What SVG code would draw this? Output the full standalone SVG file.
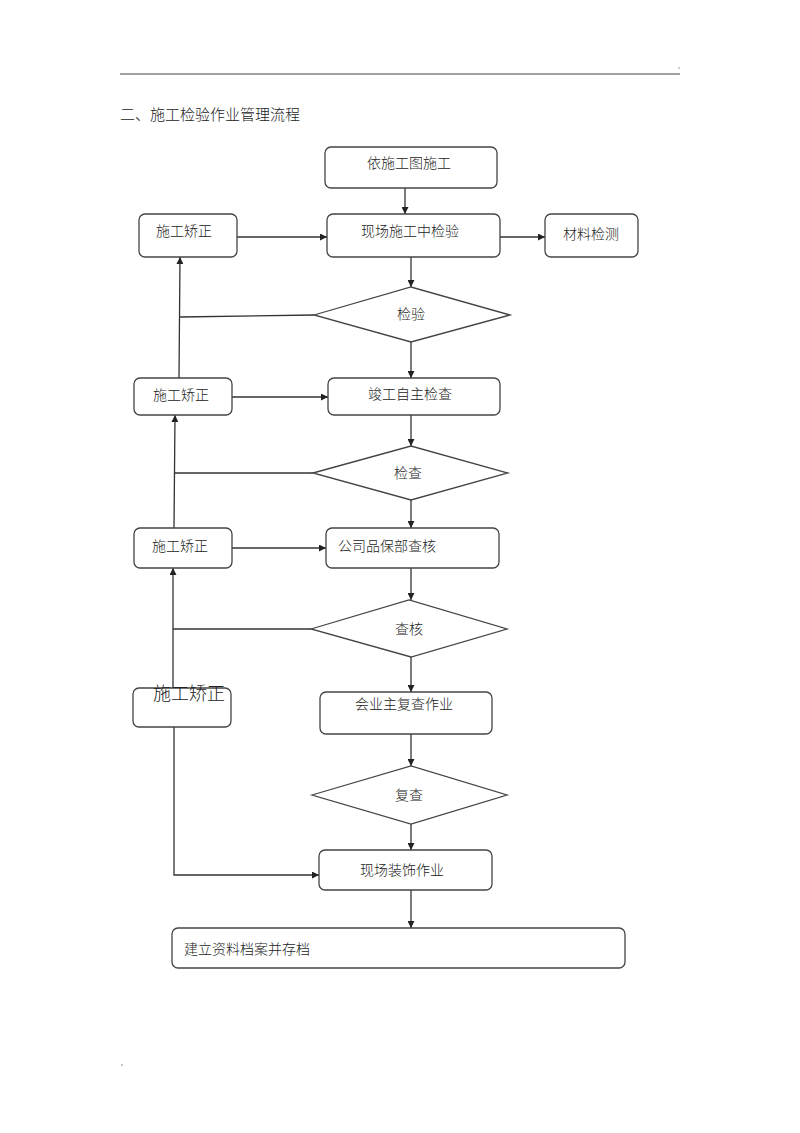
<svg xmlns="http://www.w3.org/2000/svg" width="800" height="1133" viewBox="0 0 800 1133">
<style>
.box{fill:#fff;stroke:#444;stroke-width:1.3}
.dia{fill:#fff;stroke:#444;stroke-width:1.3}
.t{font-family:"Liberation Serif","Noto Sans CJK SC",serif;font-size:14px;font-weight:300;fill:#222}
.c{text-anchor:middle}
.ln{fill:none;stroke:#333;stroke-width:1.3}
.ar{fill:none;stroke:#333;stroke-width:1.3;marker-end:url(#ah)}
</style>
<defs>
<marker id="ah" viewBox="0 0 10 10" refX="10" refY="5" markerWidth="7" markerHeight="7" markerUnits="userSpaceOnUse" orient="auto">
<path d="M0,0 L10,5 L0,10 z" fill="#222"/>
</marker>
</defs>
<rect width="800" height="1133" fill="#fff"/>
<line x1="120" y1="74" x2="680" y2="74" stroke="#444" stroke-width="1"/>
<circle cx="679" cy="68" r="0.7" fill="#777"/>
<circle cx="122" cy="1065" r="0.8" fill="#777"/>
<text class="t" x="120" y="120" style="font-size:15px">二、施工检验作业管理流程</text>

<g id="connectors">
<line class="ar" x1="405" y1="188" x2="405" y2="214"/>
<line class="ar" x1="237" y1="237" x2="327" y2="237"/>
<line class="ar" x1="500" y1="237" x2="545" y2="237"/>
<line class="ar" x1="411" y1="257" x2="411" y2="287"/>
<polyline class="ln" points="314,315 180,317"/>
<line class="ar" x1="179" y1="378" x2="180" y2="257"/>
<line class="ar" x1="411" y1="342" x2="411" y2="378"/>
<line class="ar" x1="232" y1="397" x2="328" y2="397"/>
<line class="ar" x1="411" y1="415" x2="411" y2="446"/>
<line class="ln" x1="313" y1="473" x2="175" y2="473"/>
<line class="ar" x1="174" y1="528" x2="175" y2="415"/>
<line class="ar" x1="411" y1="500" x2="411" y2="528"/>
<line class="ar" x1="232" y1="548" x2="326" y2="548"/>
<line class="ar" x1="411" y1="568" x2="411" y2="600"/>
<line class="ln" x1="311" y1="629" x2="173" y2="629"/>
<line class="ar" x1="173" y1="688" x2="173" y2="568"/>
<line class="ar" x1="411" y1="657" x2="411" y2="692"/>
<polyline class="ar" points="174,727 174,875 319,875"/>
<line class="ar" x1="411" y1="734" x2="411" y2="766"/>
<line class="ar" x1="411" y1="824" x2="411" y2="850"/>
<line class="ar" x1="411" y1="890" x2="411" y2="928"/>
</g>

<g id="n1"><rect class="box" x="325" y="147" width="172" height="41" rx="6"/><text class="t c" x="409" y="168">依施工图施工</text></g>
<g id="n2"><rect class="box" x="327" y="214" width="173" height="43" rx="6"/><text class="t c" x="410" y="236">现场施工中检验</text></g>
<g id="n3"><rect class="box" x="545" y="214" width="93" height="43" rx="6"/><text class="t c" x="591" y="239">材料检测</text></g>
<g id="n4"><rect class="box" x="139" y="214" width="98" height="43" rx="6"/><text class="t c" x="184" y="236">施工矫正</text></g>
<g id="d1"><polygon class="dia" points="314,315 411,287 510,315 411,342"/><text class="t c" x="411" y="319">检验</text></g>
<g id="n5"><rect class="box" x="328" y="378" width="172" height="37" rx="6"/><text class="t c" x="410" y="399">竣工自主检查</text></g>
<g id="n6"><rect class="box" x="134" y="378" width="98" height="37" rx="6"/><text class="t c" x="181" y="400">施工矫正</text></g>
<g id="d2"><polygon class="dia" points="313,473 411,446 508,473 411,500"/><text class="t c" x="408" y="478">检查</text></g>
<g id="n7"><rect class="box" x="326" y="528" width="173" height="40" rx="6"/><text class="t" x="338" y="551">公司品保部查核</text></g>
<g id="n8"><rect class="box" x="134" y="528" width="98" height="40" rx="6"/><text class="t c" x="180" y="551">施工矫正</text></g>
<g id="d3"><polygon class="dia" points="311,629 409,600 507,629 411,657"/><text class="t c" x="409" y="634">查核</text></g>
<g id="n9"><rect class="box" x="320" y="692" width="172" height="42" rx="6"/><text class="t c" x="404" y="709">会业主复查作业</text></g>
<g id="n10"><rect class="box" x="133" y="688" width="98" height="39" rx="6"/><text class="t c" x="189" y="700" style="font-size:18px">施工矫正</text></g>
<g id="d4"><polygon class="dia" points="312,795 411,766 507,795 411,824"/><text class="t c" x="409" y="800">复查</text></g>
<g id="n11"><rect class="box" x="319" y="850" width="173" height="40" rx="6"/><text class="t c" x="402" y="875">现场装饰作业</text></g>
<g id="n12"><rect class="box" x="172" y="928" width="453" height="40" rx="6"/><text class="t" x="184" y="954">建立资料档案并存档</text></g>
</svg>
